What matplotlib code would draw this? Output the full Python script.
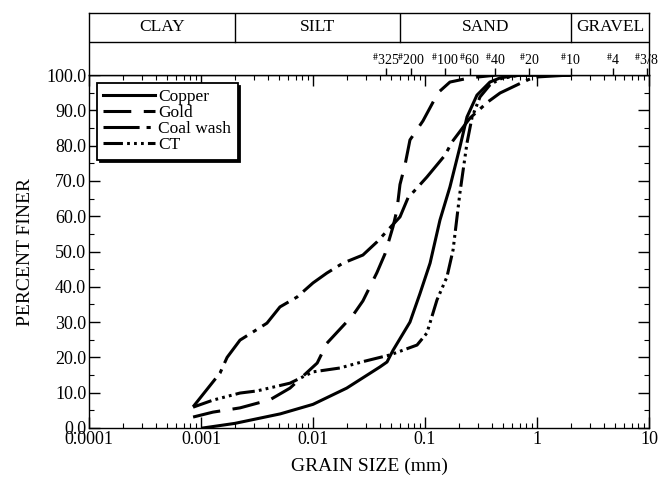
import matplotlib
matplotlib.use("Agg")
import matplotlib.pyplot as plt
from matplotlib.ticker import FixedLocator, NullFormatter, LogLocator

plt.rcParams['font.family'] = ['Liberation Serif', 'DejaVu Serif']
plt.rcParams['mathtext.fontset'] = 'stix'
plt.rcParams['lines.scale_dashes'] = False

# grain size (mm) and percent finer for each tailings sample
copper_mm = [0.00104, 0.002, 0.0051, 0.01, 0.02, 0.0396, 0.0458, 0.0518, 0.0734, 0.090,
             0.111, 0.136, 0.167, 0.205, 0.237, 0.291, 0.38, 0.47, 0.70, 2.0]
copper_pct = [0.0, 1.3, 4.0, 6.7, 11.3, 17.3, 18.7, 22.0, 30.0, 38.0,
              46.7, 58.9, 68.3, 79.6, 88.1, 94.3, 98.0, 99.2, 100.0, 100.0]

gold_mm = [0.00085, 0.00128, 0.00223, 0.00413, 0.00623, 0.0109, 0.0133, 0.0228, 0.0279, 0.0372,
           0.0439, 0.0518, 0.0562, 0.0598, 0.0663, 0.0734, 0.0959, 0.131, 0.167, 0.252, 0.44, 2.0]
gold_pct = [3.1, 4.5, 5.7, 8.0, 11.3, 18.4, 24.0, 32.0, 36.0, 44.0,
            49.3, 57.0, 61.8, 69.0, 74.5, 81.6, 87.0, 95.0, 98.0, 99.2, 100.0, 100.0]

coal_mm = [0.00085, 0.00148, 0.00171, 0.00223, 0.00291, 0.00388, 0.00507, 0.0072, 0.0100, 0.0133,
           0.0185, 0.0279, 0.0372, 0.0598, 0.0705, 0.0849, 0.104, 0.151, 0.174, 0.252,
           0.365, 0.468, 0.75, 0.94, 2.0]
coal_pct = [6.0, 15.6, 20.0, 24.9, 27.2, 29.7, 34.3, 37.1, 41.1, 43.9,
            46.7, 49.0, 52.7, 59.8, 65.2, 68.0, 71.1, 77.3, 81.0, 87.8,
            92.4, 94.9, 98.0, 99.4, 100.0]

ct_mm = [0.00085, 0.00128, 0.00223, 0.00316, 0.00623, 0.0100, 0.0174, 0.0279, 0.0487, 0.0849,
         0.104, 0.128, 0.157, 0.178, 0.205, 0.237, 0.263, 0.31, 0.38, 0.468, 0.705, 2.0]
ct_pct = [5.9, 7.9, 9.9, 10.5, 12.7, 15.9, 17.0, 18.8, 20.7, 23.5,
          26.9, 36.3, 42.8, 50.4, 66.6, 80.7, 88.0, 93.8, 97.2, 98.9, 100.0, 100.0]

# soil classes (boundaries in mm) and sieve numbers
class_names = ["CLAY", "SILT", "SAND", "GRAVEL"]
class_edges = [1e-4, 0.002, 0.06, 2.0, 10.0]
sieve_names = ["325", "200", "100", "60", "40", "20", "10", "4", "3/8"]
sieve_mm = [0.045, 0.075, 0.15, 0.25, 0.425, 0.85, 2.0, 4.75, 9.5]

fig = plt.figure(figsize=(6.6, 4.8), dpi=100)
ax = fig.add_axes([89/660, 52/480, 560/660, 353/480])

lw = 2.2
ax.plot(copper_mm, copper_pct, color='k', lw=lw, label="Copper")
ax.plot(gold_mm, gold_pct, color='k', lw=lw, dashes=(20, 9), label="Gold")
ax.plot(coal_mm, coal_pct, color='k', lw=lw, dashes=(26, 5, 3, 5), label="Coal wash")
ax.plot(ct_mm, ct_pct, color='k', lw=lw, dashes=(14, 3, 2, 3, 2, 3, 2, 3), label="CT")

ax.set_xscale('log')
ax.set_xlim(1e-4, 10)
ax.set_ylim(0, 100)
ax.xaxis.set_major_locator(FixedLocator([1e-4, 1e-3, 1e-2, 1e-1, 1, 10]))
ax.set_xticklabels(["0.0001", "0.001", "0.01", "0.1", "1", "10"])
ax.xaxis.set_minor_locator(LogLocator(base=10, subs=range(2, 10)))
ax.xaxis.set_minor_formatter(NullFormatter())
ax.set_yticks(range(0, 101, 10))
ax.set_yticklabels([f"{v:.1f}" for v in range(0, 101, 10)])
ax.yaxis.set_minor_locator(FixedLocator(range(5, 100, 10)))
ax.tick_params(which='both', direction='in', top=True, right=True, labelsize=13, pad=2)
ax.tick_params(which='major', length=8, width=1)
ax.tick_params(which='minor', length=3.5, width=0.8)
for s in ax.spines.values():
    s.set_linewidth(1)

ax.set_xlabel("GRAIN SIZE (mm)", fontsize=14, labelpad=7)
ax.set_ylabel("PERCENT FINER", fontsize=14, labelpad=9)

ax.legend(loc='upper left', bbox_to_anchor=(0.014, 0.978), borderaxespad=0,
          fontsize=12.5, handlelength=3.0, handletextpad=0.2, labelspacing=0.0,
          borderpad=0.35, fancybox=False, edgecolor='k', framealpha=1,
          shadow={'color': 'k', 'alpha': 1})
ax.get_legend().get_frame().set_linewidth(1.3)

# classification strip above the plot
top = fig.add_axes([89/660, 405/480, 560/660, 62/480])
top.set_xscale('log')
top.set_xlim(1e-4, 10)
top.set_ylim(0, 1)
top.set_yticks([])
top.xaxis.set_major_locator(FixedLocator(sieve_mm))
top.xaxis.set_minor_locator(FixedLocator([]))
top.tick_params(axis='x', direction='in', length=5, width=1, labelbottom=False)
for s in top.spines.values():
    s.set_linewidth(1)
mid = 0.53
top.axhline(mid, color='k', lw=1)
for edge in class_edges[1:-1]:
    top.plot([edge, edge], [mid, 1], color='k', lw=1)
for i, name in enumerate(class_names):
    xc = (class_edges[i] * class_edges[i + 1]) ** 0.5
    top.text(xc, 0.77, name, ha='center', va='center', fontsize=12.5)
for name, mm in zip(sieve_names, sieve_mm):
    top.text(mm, 0.24, r"$^{\#}$" + name, ha='center', va='center', fontsize=10)

fig.savefig("out.png", dpi=100)
